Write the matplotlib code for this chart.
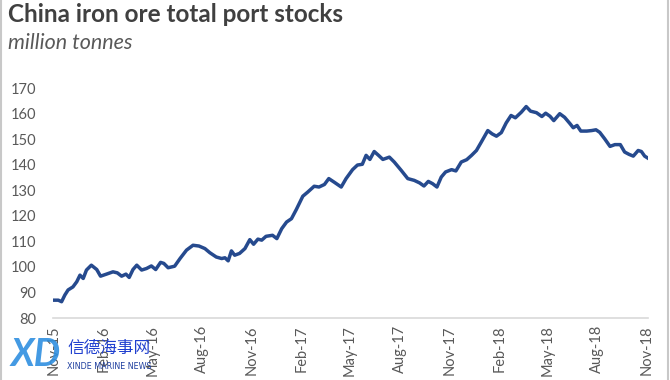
#!/usr/bin/env python3
import numpy as np
import pandas as pd
import matplotlib
matplotlib.use('Agg')
import matplotlib.pyplot as plt
import matplotlib.dates as mdates
from matplotlib.lines import Line2D

# readings taken off the chart (date, million tonnes)
dates = [
    '2015-11-01', '2015-11-09', '2015-11-15', '2015-11-21', '2015-11-27',
    '2015-12-06', '2015-12-13', '2015-12-19', '2015-12-25', '2015-12-31',
    '2016-01-09', '2016-01-19', '2016-01-26', '2016-02-06', '2016-02-18',
    '2016-02-26', '2016-03-05', '2016-03-13', '2016-03-19', '2016-03-26',
    '2016-04-02', '2016-04-11', '2016-04-20', '2016-04-29', '2016-05-07',
    '2016-05-16', '2016-05-22', '2016-05-30', '2016-06-11', '2016-06-21',
    '2016-07-03', '2016-07-15', '2016-07-26', '2016-08-06', '2016-08-15',
    '2016-08-27', '2016-09-06', '2016-09-12', '2016-09-18', '2016-09-24',
    '2016-09-30', '2016-10-09', '2016-10-19', '2016-10-28', '2016-11-04',
    '2016-11-12', '2016-11-19', '2016-11-27', '2016-12-09', '2016-12-17',
    '2016-12-26', '2017-01-04', '2017-01-13', '2017-01-22', '2017-02-03',
    '2017-02-12', '2017-02-24', '2017-03-05', '2017-03-15', '2017-03-23',
    '2017-04-02', '2017-04-15', '2017-04-24', '2017-05-06', '2017-05-15',
    '2017-05-24', '2017-05-31', '2017-06-07', '2017-06-15', '2017-06-23',
    '2017-07-01', '2017-07-13', '2017-07-22', '2017-08-04', '2017-08-16',
    '2017-08-28', '2017-09-07', '2017-09-15', '2017-09-23', '2017-10-01',
    '2017-10-09', '2017-10-17', '2017-10-25', '2017-11-05', '2017-11-13',
    '2017-11-23', '2017-12-03', '2017-12-12', '2017-12-21', '2017-12-30',
    '2018-01-11', '2018-01-19', '2018-01-27', '2018-02-05', '2018-02-14',
    '2018-02-23', '2018-03-03', '2018-03-14', '2018-03-23', '2018-03-31',
    '2018-04-11', '2018-04-21', '2018-04-28', '2018-05-06', '2018-05-13',
    '2018-05-24', '2018-06-02', '2018-06-12', '2018-06-18', '2018-06-25',
    '2018-07-02', '2018-07-13', '2018-07-22', '2018-07-30', '2018-08-06',
    '2018-08-15', '2018-08-25', '2018-09-03', '2018-09-13', '2018-09-21',
    '2018-09-29', '2018-10-07', '2018-10-16', '2018-10-22', '2018-10-28',
    '2018-11-03',
]
stocks = [
    87.0, 87.0, 86.4, 89.0, 91.0,
    92.2, 94.2, 96.8, 95.5, 98.8,
    100.7, 99.0, 96.4, 97.2, 98.1,
    97.7, 96.4, 97.2, 95.9, 99.0,
    100.7, 98.8, 99.4, 100.4, 99.0,
    101.8, 101.4, 99.7, 100.3, 103.3,
    106.6, 108.5, 108.2, 107.2, 105.6,
    103.9, 103.3, 103.6, 102.4, 106.3,
    104.6, 105.3, 107.2, 110.7, 108.9,
    110.9, 110.5, 112.0, 112.4, 111.1,
    115.0, 117.6, 118.9, 122.5, 127.7,
    129.3, 131.6, 131.3, 132.3, 134.6,
    133.2, 131.3, 134.6, 138.1, 139.9,
    140.2, 143.7, 142.1, 145.2, 143.7,
    142.1, 143.0, 141.1, 137.8, 134.6,
    133.9, 132.9, 131.7, 133.5, 132.6,
    131.3, 135.2, 137.2, 138.1, 137.6,
    141.1, 142.0, 143.7, 145.6, 148.9,
    153.4, 152.1, 151.2, 152.6, 156.4,
    159.3, 158.4, 160.6, 162.8, 161.0,
    160.4, 158.9, 160.2, 159.0, 157.3,
    160.0, 158.6, 156.1, 154.5, 155.4,
    153.2, 153.2, 153.4, 153.7, 152.7,
    150.2, 147.2, 147.9, 147.9, 145.0,
    144.1, 143.4, 145.6, 145.2, 143.4,
    142.6,
]

title = 'China iron ore total port stocks'
subtitle = 'million tonnes'
yticks = [80, 90, 100, 110, 120, 130, 140, 150, 160, 170]

x = pd.to_datetime(dates)

plt.rcParams['font.family'] = ['Lato', 'DejaVu Sans']

fig = plt.figure(figsize=(6.7, 3.8), dpi=100)
ax = fig.add_axes([0.079, 0.163, 0.888, 0.605])

ax.plot(x, stocks, color='#264a8e', lw=2.5, solid_joinstyle='round')

ax.set_ylim(80, 170)
ax.set_yticks(yticks)
ax.set_xlim(pd.Timestamp('2015-10-30'), pd.Timestamp('2018-11-03'))
ax.xaxis.set_major_locator(mdates.MonthLocator(bymonth=[2, 5, 8, 11]))
ax.xaxis.set_major_formatter(mdates.DateFormatter('%b-%y'))

for s in ['top', 'right', 'left']:
    ax.spines[s].set_visible(False)
ax.spines['bottom'].set_color('#d9d9d9')
ax.spines['bottom'].set_linewidth(1.2)
ax.tick_params(axis='y', length=0, pad=12, labelsize=10.5, labelcolor='#595959')
ax.tick_params(axis='x', length=0, pad=5, labelsize=10.5, labelcolor='#595959',
               labelrotation=90)

fig.text(0.012, 0.962, title, fontsize=17.5, fontweight='bold',
         color='#404040', va='center')
fig.text(0.012, 0.888, subtitle, fontsize=15.5, style='italic',
         color='#595959', va='center')

# watermark in the lower-left corner
fig.text(0.016, 0.068, 'XD', fontsize=27, fontweight='bold', style='italic',
         color='#2f8fe0', va='center', alpha=0.9)
fig.text(0.1, 0.083, '信德海事网', fontsize=12, color='#1f3fcf',
         family=['Noto Sans CJK SC', 'DejaVu Sans'], va='center')
fig.text(0.1, 0.036, 'XINDE MARINE NEWS', fontsize=5.8, color='#1f3f9f',
         family=['DejaVu Sans'], va='center')

# thin frame edges at left and right
fig.add_artist(Line2D([0.002, 0.002], [0, 1], transform=fig.transFigure,
                      color='#c8c8c8', lw=1.5))
fig.add_artist(Line2D([0.997, 0.997], [0, 1], transform=fig.transFigure,
                      color='#c8c8c8', lw=1.5))

fig.savefig('out.png', dpi=100)
